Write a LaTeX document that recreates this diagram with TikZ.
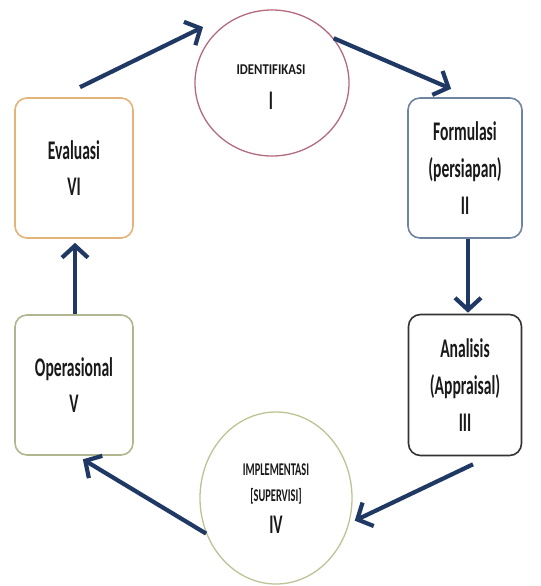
\documentclass[tikz,border=0pt]{standalone}
\usepackage{fontspec}
\usetikzlibrary{arrows.meta,shapes.geometric,calc}
\newfontfamily\stagefont[FakeStretch=0.58]{Carlito}
\newfontfamily\capsfont[FakeStretch=0.85]{Carlito}
\definecolor{arrownavy}{HTML}{1F3864}
\definecolor{evalorange}{HTML}{E3B47A}
\definecolor{formblue}{HTML}{6F84A0}
\definecolor{opergreen}{HTML}{B2B690}
\definecolor{identrose}{HTML}{B36A7C}
\definecolor{implgreen}{HTML}{BEC294}
\tikzset{
  stagebox/.style={draw,line width=1.6bp,rounded corners=12bp,align=center,
    inner sep=0pt,font=\stagefont\bfseries\fontsize{27}{37}\selectfont,text=black!90},
  stageoval/.style={draw,ellipse,line width=1.3bp,align=center,inner sep=0pt},
  cyclearrow/.style={-{Straight Barb[length=12bp,width=26bp]},line width=4.2bp,arrownavy}
}
\begin{document}
\begin{tikzpicture}[x=1bp,y=-1bp]
\useasboundingbox (0,0) rectangle (541,586);
% stages
\node[stageoval,draw=identrose,minimum width=154bp,minimum height=146bp] (ident) at (272,83) {};
\node[font=\capsfont\bfseries\fontsize{15}{18}\selectfont,text=black!90] (identtxt) at (271,70) {IDENTIFIKASI};
\node[font=\stagefont\bfseries\fontsize{27}{30}\selectfont,text=black!90] (identnum) at (271,101) {I};
\node[stagebox,draw=evalorange,minimum width=118bp,minimum height=140bp] (eval) at (74,168) {Evaluasi\\VI};
\node[stagebox,draw=formblue,minimum width=114bp,minimum height=140bp] (form) at (465,168) {Formulasi\\(persiapan)\\II};
\node[stagebox,draw=opergreen,minimum width=118bp,minimum height=140bp] (oper) at (74,385) {Operasional\\V};
\node[stagebox,draw=black!80,minimum width=113bp,minimum height=141bp] (anal) at (465,385) {Analisis\\(Appraisal)\\III};
\node[stageoval,draw=implgreen,minimum width=152bp,minimum height=172bp] (impl) at (276,498) {};
\node[font=\stagefont\bfseries\fontsize{18}{26}\selectfont,text=black!90,align=center] (impltxt) at (276,484) {IMPLEMENTASI\\{[SUPERVISI]}};
\node[font=\stagefont\bfseries\fontsize{27}{30}\selectfont,text=black!90] (implnum) at (276,525) {IV};
% cycle
\draw[cyclearrow] ([shift={(6,-10)}]eval.north) -- ([shift={(-69,-56)}]ident.center);
\draw[cyclearrow,shorten >=1bp] (ident.36) -- ([shift={(-13,-8)}]form.north);
\draw[cyclearrow,shorten >=1bp] ([xshift=3]form.south) -- ([xshift=3]anal.north);
\draw[cyclearrow,shorten >=6bp] ([shift={(8,8)}]anal.south) -- (impl.-19);
\draw[cyclearrow,shorten >=1bp] (impl.207) -- ([shift={(8,3)}]oper.south);
\draw[cyclearrow,shorten >=4bp] ([xshift=1]oper.north) -- ([xshift=1]eval.south);
\end{tikzpicture}
\end{document}
